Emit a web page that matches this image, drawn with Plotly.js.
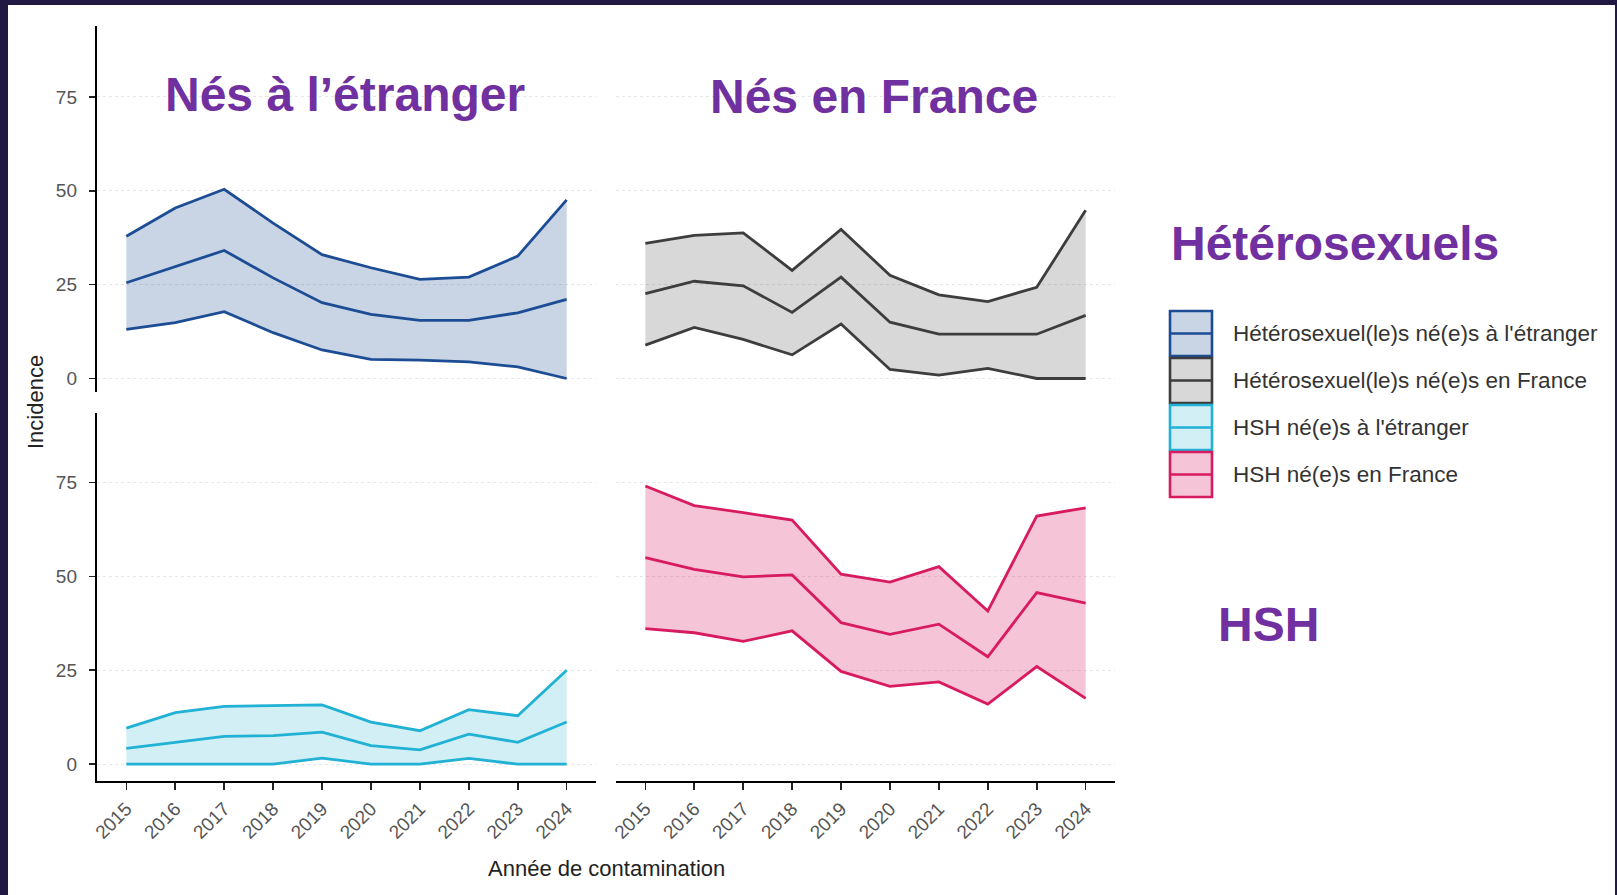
<!DOCTYPE html>
<html>
<head>
<meta charset="utf-8">
<script src="https://cdn.plot.ly/plotly-3.0.1.min.js"></script>
<style>
  html, body { margin: 0; padding: 0; background: #ffffff; }
  #chart { width: 1617px; height: 895px; }
</style>
</head>
<body>
<div id="chart"></div>
<script>
// ---- Data ----
const years = ['2015','2016','2017','2018','2019','2020','2021','2022','2023','2024'];

const heteroAbroadLow  = [13.1, 14.9, 17.8, 12.2, 7.6, 5.1, 4.9, 4.4, 3.1, 0];
const heteroAbroadMid  = [25.5, 29.7, 34.1, 26.8, 20.2, 17.1, 15.5, 15.5, 17.5, 21.1];
const heteroAbroadHigh = [37.9, 45.4, 50.4, 41.4, 33.0, 29.5, 26.4, 27.0, 32.6, 47.6];

const heteroFranceLow  = [8.9, 13.6, 10.4, 6.3, 14.5, 2.4, 0.9, 2.7, 0, 0];
const heteroFranceMid  = [22.6, 25.9, 24.7, 17.6, 27.0, 15.0, 11.8, 11.8, 11.8, 16.8];
const heteroFranceHigh = [36.0, 38.1, 38.8, 28.8, 39.7, 27.5, 22.3, 20.5, 24.3, 44.8];

const hshAbroadLow  = [0, 0, 0, 0, 1.6, 0, 0, 1.5, 0, 0];
const hshAbroadMid  = [4.2, 5.8, 7.4, 7.6, 8.5, 4.9, 3.8, 8.0, 5.8, 11.2];
const hshAbroadHigh = [9.6, 13.7, 15.4, 15.6, 15.8, 11.2, 8.9, 14.5, 12.9, 25.0];

const hshFranceLow  = [36.1, 35.0, 32.7, 35.5, 24.7, 20.7, 21.9, 16.0, 26.0, 17.5];
const hshFranceMid  = [55.0, 51.9, 49.9, 50.4, 37.7, 34.6, 37.3, 28.6, 45.7, 42.9];
const hshFranceHigh = [74.1, 68.9, 67.0, 65.0, 50.6, 48.5, 52.6, 40.8, 66.1, 68.3];

const seriesNames = [
  "Hétérosexuel(le)s né(e)s à l'étranger",
  "Hétérosexuel(le)s né(e)s en France",
  "HSH né(e)s à l'étranger",
  "HSH né(e)s en France"
];
const yTicks = [0, 25, 50, 75];
const xTitle = 'Année de contamination';
const yTitle = 'Incidence';
const colTitles = ['Nés à l’étranger', 'Nés en France'];
const rowTitles = ['Hétérosexuels', 'HSH'];

// ---- Styling ----
const W = 1617, H = 895;
const px = v => v / W;
const py = v => 1 - v / H;
const lineColors = ['#1c4d94', '#3d3d3d', '#20b1d4', '#d81b60'];
const fillColors = ['rgba(28,77,148,0.24)', 'rgba(61,61,61,0.2)', 'rgba(32,177,212,0.2)', 'rgba(216,27,96,0.26)'];
const purple = '#7030a0';

const panels = [
  {low: heteroAbroadLow, mid: heteroAbroadMid, high: heteroAbroadHigh, xa: 'x3', ya: 'y3'},
  {low: heteroFranceLow, mid: heteroFranceMid, high: heteroFranceHigh, xa: 'x4', ya: 'y4'},
  {low: hshAbroadLow, mid: hshAbroadMid, high: hshAbroadHigh, xa: 'x', ya: 'y'},
  {low: hshFranceLow, mid: hshFranceMid, high: hshFranceHigh, xa: 'x2', ya: 'y2'}
];

const traces = [];
panels.forEach((p, i) => {
  traces.push({
    type: 'scatter', mode: 'lines', xaxis: p.xa, yaxis: p.ya,
    x: years.concat(years.slice().reverse()),
    y: p.high.concat(p.low.slice().reverse()),
    fill: 'toself', fillcolor: fillColors[i],
    line: {width: 0}, hoverinfo: 'skip', showlegend: false, name: seriesNames[i]
  });
  [p.low, p.mid, p.high].forEach(arr => {
    traces.push({
      type: 'scatter', mode: 'lines', xaxis: p.xa, yaxis: p.ya,
      x: years, y: arr, line: {color: lineColors[i], width: 2.8},
      showlegend: false, name: seriesNames[i]
    });
  });
});

const leftDom = [px(97), px(596)];
const rightDom = [px(616), px(1115)];
const topDom = [py(392), py(26)];
const botDom = [py(781), py(413)];
const xRange = [-0.6, 9.6];
const topRange = [-3.6, 93.9];
const botRange = [-4.5, 93.55];

const tickFont = {family: 'Liberation Sans, Arial, sans-serif', size: 19, color: '#555555'};
const grid = {showgrid: true, gridcolor: '#e6e6e6', griddash: 'dot', gridwidth: 1};

function xAxisBottom(anchor, dom) {
  return {
    anchor: anchor, domain: dom, type: 'category', range: xRange,
    showline: true, linecolor: '#000', linewidth: 2.2,
    ticks: 'outside', ticklen: 7, tickwidth: 1.6, tickcolor: '#222',
    tickangle: -45, tickfont: tickFont, showgrid: false, zeroline: false,
    fixedrange: true
  };
}
function xAxisHidden(anchor, dom) {
  return {
    anchor: anchor, domain: dom, type: 'category', range: xRange,
    showline: false, showticklabels: false, ticks: '', showgrid: false, zeroline: false
  };
}
function yAxisLeft(anchor, dom, rng) {
  return Object.assign({
    anchor: anchor, domain: dom, range: rng, tickvals: yTicks,
    showline: true, linecolor: '#000', linewidth: 2.2,
    ticks: 'outside', ticklen: 6, tickwidth: 1.6, tickcolor: '#222',
    tickfont: tickFont, ticklabelstandoff: 8, zeroline: false
  }, grid);
}
function yAxisRight(anchor, dom, rng) {
  return Object.assign({
    anchor: anchor, domain: dom, range: rng, tickvals: yTicks,
    showline: false, showticklabels: false, ticks: '', zeroline: false
  }, grid);
}

// Legend keys (drawn as shapes) and frame
const shapes = [];
const frameColor = '#211944';
shapes.push({type: 'rect', xref: 'paper', yref: 'paper', x0: 0, x1: px(8), y0: 0, y1: 1, fillcolor: frameColor, line: {width: 0}, layer: 'above'});
shapes.push({type: 'rect', xref: 'paper', yref: 'paper', x0: 0, x1: 1, y0: py(5), y1: 1, fillcolor: frameColor, line: {width: 0}, layer: 'above'});
shapes.push({type: 'rect', xref: 'paper', yref: 'paper', x0: px(1615), x1: 1, y0: 0, y1: 1, fillcolor: frameColor, line: {width: 0}, layer: 'above'});

const annotations = [];
const keyTop = 310, keyH = 47, keyX0 = 1170, keyX1 = 1212;
seriesNames.forEach((name, i) => {
  const t = keyTop + i * keyH, b = t + keyH;
  shapes.push({type: 'rect', xref: 'paper', yref: 'paper', x0: px(keyX0), x1: px(keyX1), y0: py(b - 1), y1: py(t + 1),
    fillcolor: fillColors[i], line: {color: lineColors[i], width: 2.6}});
  shapes.push({type: 'line', xref: 'paper', yref: 'paper', x0: px(keyX0), x1: px(keyX1), y0: py(t + keyH / 2), y1: py(t + keyH / 2),
    line: {color: lineColors[i], width: 2.6}});
  annotations.push({xref: 'paper', yref: 'paper', x: px(1231), y: py(t + keyH / 2), xanchor: 'left', yanchor: 'middle',
    text: name, showarrow: false, font: {family: 'Liberation Sans, Arial, sans-serif', size: 22.5, color: '#333'}});
});

const titleFont = {family: 'Liberation Sans, Arial, sans-serif', size: 48, color: purple, weight: 700};
annotations.push({xref: 'paper', yref: 'paper', x: px(345), y: py(94), xanchor: 'center', yanchor: 'middle', text: '<b>' + colTitles[0] + '</b>', showarrow: false, font: titleFont});
annotations.push({xref: 'paper', yref: 'paper', x: px(874), y: py(96), xanchor: 'center', yanchor: 'middle', text: '<b>' + colTitles[1] + '</b>', showarrow: false, font: titleFont});
annotations.push({xref: 'paper', yref: 'paper', x: px(1335), y: py(244), xanchor: 'center', yanchor: 'middle', text: '<b>' + rowTitles[0] + '</b>', showarrow: false, font: titleFont});
annotations.push({xref: 'paper', yref: 'paper', x: px(1268), y: py(624), xanchor: 'center', yanchor: 'middle', text: '<b>' + rowTitles[1] + '</b>', showarrow: false, font: titleFont});

const axisTitleFont = {family: 'Liberation Sans, Arial, sans-serif', size: 22, color: '#222'};
annotations.push({xref: 'paper', yref: 'paper', x: px(606), y: py(868), xanchor: 'center', yanchor: 'middle', text: xTitle, showarrow: false, font: axisTitleFont});
annotations.push({xref: 'paper', yref: 'paper', x: px(35), y: py(402), xanchor: 'center', yanchor: 'middle', text: yTitle, textangle: -90, showarrow: false, font: axisTitleFont});

const layout = {
  width: W, height: H,
  margin: {l: 0, r: 0, t: 0, b: 0},
  paper_bgcolor: '#ffffff', plot_bgcolor: 'rgba(0,0,0,0)',
  showlegend: false,
  xaxis: xAxisBottom('y', leftDom),
  yaxis: yAxisLeft('x', botDom, botRange),
  xaxis2: xAxisBottom('y2', rightDom),
  yaxis2: yAxisRight('x2', botDom, botRange),
  xaxis3: xAxisHidden('y3', leftDom),
  yaxis3: yAxisLeft('x3', topDom, topRange),
  xaxis4: xAxisHidden('y4', rightDom),
  yaxis4: yAxisRight('x4', topDom, topRange),
  shapes: shapes,
  annotations: annotations
};

Plotly.newPlot('chart', traces, layout, {displayModeBar: false, staticPlot: true});
</script>
</body>
</html>
